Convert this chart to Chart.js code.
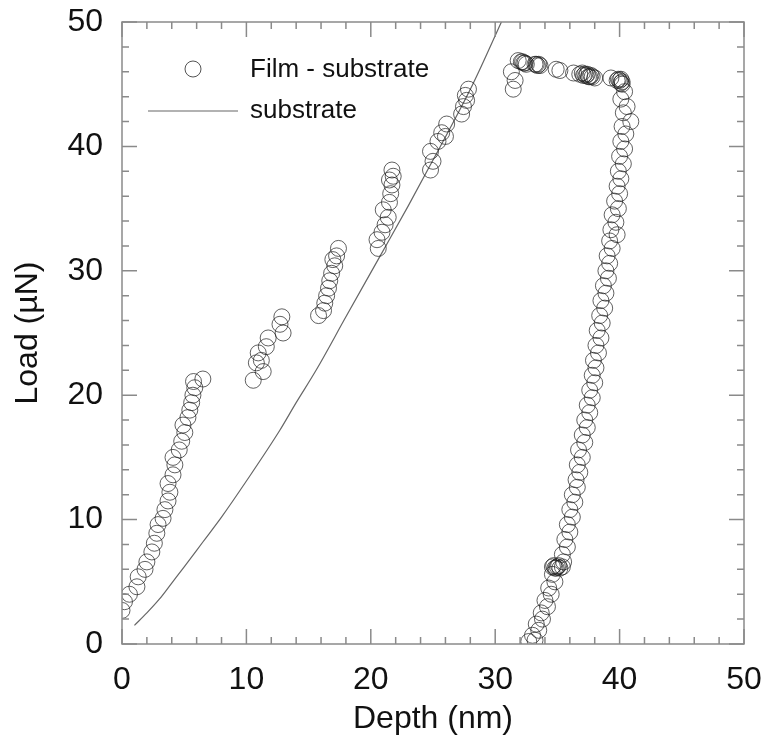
<!DOCTYPE html>
<html>
<head>
<meta charset="utf-8">
<title>Load - depth</title>
<script src="https://cdn.jsdelivr.net/npm/chart.js@4.4.1/dist/chart.umd.min.js"></script>
<style>
  html, body { margin: 0; padding: 0; background: #fff; }
  #wrap { width: 763px; height: 743px; }
</style>
</head>
<body>
<div id="wrap"><canvas id="chart" width="763" height="743"></canvas></div>
<script>
// film - substrate (nm, uN)
const filmDepth = [
  0.0, 0.2, 0.6, 1.2, 1.3, 1.85, 2.0, 2.4, 2.6, 2.8, 2.9, 3.3, 3.45, 3.7, 3.85, 3.7, 4.1, 4.25, 4.1, 4.6,
  4.8, 5.05, 4.9, 5.3, 5.45, 5.6, 5.7, 5.85, 5.75, 6.5,
  10.55, 11.35, 10.8, 11.2, 10.95, 11.6, 11.75, 12.95, 12.7, 12.85,
  15.8, 16.2, 16.3, 16.45, 16.6, 16.7, 16.85, 17.1, 16.95, 17.25, 17.4,
  20.6, 20.5, 20.9, 21.15, 21.0, 21.4, 21.5, 21.6, 21.7, 21.5, 21.8, 21.7,
  24.8, 25.0, 24.8, 25.4, 25.7, 26.0, 26.1, 27.3, 27.45, 27.7, 27.6, 27.85,
  31.45, 31.6, 31.3, 31.85, 32.1, 32.2, 32.3, 32.4, 32.5, 33.2, 33.3, 33.4, 33.5, 33.6, 34.9, 35.2,
  36.3, 36.8, 37.0, 37.1, 37.2, 37.3, 37.4, 37.5, 37.6, 37.7, 37.8, 38.0,
  39.3, 39.8, 39.9, 40.0, 40.1, 40.2, 40.1,
  40.2, 40.4, 40.1, 40.6, 40.3, 40.9, 40.2, 40.5, 40.1, 40.4, 40.0, 40.3, 39.9, 40.1, 39.8, 40.0,
  39.6, 39.9, 39.4, 39.7, 39.3, 39.8, 39.2, 39.4, 39.0, 39.2, 38.9, 39.1, 38.7, 38.9, 38.5, 38.8,
  38.4, 38.6, 38.2, 38.5, 38.1, 38.3, 37.9, 38.1, 37.8, 38.0, 37.6, 37.8, 37.4, 37.6, 37.2, 37.4,
  37.0, 37.2, 36.7, 37.0, 36.6, 36.8, 36.5, 36.6, 36.2, 36.4, 36.0, 36.2, 35.8, 36.0, 35.6, 35.8,
  35.4, 35.5, 34.6, 34.8, 35.0, 35.2, 35.4, 34.7, 35.1, 34.9, 34.6, 34.8, 34.3, 34.5, 34.0, 34.2,
  33.7, 33.8, 33.3, 33.5, 33.0, 33.2, 32.7
];
const filmLoad = [
  2.7, 3.4, 4.0, 4.6, 5.4, 6.0, 6.6, 7.4, 8.1, 8.9, 9.6, 10.1, 10.8, 11.5, 12.2, 12.9, 13.6, 14.4, 15.0, 15.6,
  16.3, 17.0, 17.6, 18.2, 18.8, 19.4, 20.0, 20.6, 21.1, 21.3,
  21.2, 21.9, 22.6, 22.8, 23.4, 23.9, 24.6, 25.0, 25.7, 26.3,
  26.4, 26.8, 27.4, 28.0, 28.6, 29.2, 29.8, 30.4, 30.9, 31.2, 31.8,
  31.8, 32.5, 33.1, 33.7, 34.9, 34.3, 35.5, 36.2, 36.9, 37.3, 37.6, 38.1,
  38.1, 38.8, 39.6, 40.4, 41.1, 40.8, 41.8, 42.6, 43.2, 43.7, 44.1, 44.6,
  44.6, 45.3, 46.0, 46.9, 46.8, 46.8, 46.7, 46.7, 46.6, 46.6, 46.6, 46.5, 46.6, 46.5, 46.2, 46.1,
  45.9, 45.8, 45.9, 45.7, 45.8, 45.7, 45.8, 45.6, 45.6, 45.7, 45.6, 45.5,
  45.5, 45.3, 45.4, 45.3, 45.4, 45.2, 45.1,
  45.0, 44.4, 43.8, 43.2, 42.7, 42.0, 41.6, 41.0, 40.4, 39.8, 39.2, 38.6, 38.0, 37.4, 36.8, 36.2,
  35.6, 35.0, 34.5, 33.9, 33.3, 32.9, 32.4, 31.8, 31.2, 30.6, 30.0, 29.4, 28.8, 28.2, 27.6, 27.0,
  26.4, 25.8, 25.2, 24.6, 24.0, 23.4, 22.8, 22.2, 21.6, 21.0, 20.4, 19.8, 19.2, 18.6, 18.0, 17.4,
  16.8, 16.2, 15.6, 15.0, 14.4, 13.8, 13.2, 12.6, 12.0, 11.4, 10.8, 10.2, 9.6, 9.0, 8.4, 7.8,
  7.2, 6.6, 6.2, 6.1, 6.2, 6.1, 6.2, 6.3, 6.3, 6.1, 5.6, 5.0, 4.5, 4.0, 3.5, 3.0,
  2.5, 2.0, 1.6, 1.1, 0.7, 0.3, 0.2
];

// substrate curve
const substrateDepth = [1.0, 2.0, 3.0, 4.0, 5.0, 6.5, 8.0, 10.0, 12.7, 14.0, 15.6, 18.0, 20.7, 23.0, 25.0, 28.2, 30.5];
const substrateLoad  = [1.5, 2.5, 3.6, 4.9, 6.2, 8.2, 10.2, 13.1, 17.2, 19.4, 22.0, 26.3, 31.1, 35.2, 38.9, 45.0, 50.0];

const xTicks = [0, 10, 20, 30, 40, 50];
const yTicks = [0, 10, 20, 30, 40, 50];

const axisGray = '#8a8a8a';
const fontFam = '"Liberation Sans", Arial, sans-serif';

// box + inward ticks on all four sides
const frameTicks = {
  id: 'frameTicks',
  afterDraw(chart) {
    const { ctx, chartArea: a, scales } = chart;
    const xs = scales.x, ys = scales.y;
    ctx.save();
    ctx.strokeStyle = axisGray;
    ctx.lineWidth = 1.5;
    ctx.strokeRect(a.left, a.top, a.right - a.left, a.bottom - a.top);
    ctx.beginPath();
    for (let v = 0; v <= 50; v += 2) {
      const len = v % 10 === 0 ? 15 : 7;
      const px = xs.getPixelForValue(v);
      ctx.moveTo(px, a.bottom); ctx.lineTo(px, a.bottom - len);
      ctx.moveTo(px, a.top); ctx.lineTo(px, a.top + len);
      const py = ys.getPixelForValue(v);
      ctx.moveTo(a.left, py); ctx.lineTo(a.left + len, py);
      ctx.moveTo(a.right, py); ctx.lineTo(a.right - len, py);
    }
    ctx.stroke();

    // legend
    ctx.fillStyle = '#111';
    ctx.font = '26px ' + fontFam;
    ctx.textBaseline = 'middle';
    ctx.fillText('Film - substrate', 250, 70);
    ctx.fillText('substrate', 250, 111);
    ctx.strokeStyle = 'rgba(40,40,40,0.8)';
    ctx.lineWidth = 1;
    ctx.beginPath();
    ctx.arc(193, 69, 8, 0, Math.PI * 2);
    ctx.stroke();
    ctx.strokeStyle = '#666';
    ctx.lineWidth = 1.2;
    ctx.beginPath();
    ctx.moveTo(148, 111); ctx.lineTo(238, 111);
    ctx.stroke();
    ctx.restore();
  }
};

const ctx = document.getElementById('chart').getContext('2d');
new Chart(ctx, {
  type: 'scatter',
  data: {
    datasets: [
      {
        label: 'Film - substrate',
        data: filmDepth.map((d, i) => ({ x: d, y: filmLoad[i] })),
        pointRadius: 8,
        pointBorderWidth: 1,
        pointBorderColor: 'rgba(30,30,30,0.7)',
        pointBackgroundColor: 'rgba(0,0,0,0)',
        showLine: false
      },
      {
        label: 'substrate',
        data: substrateDepth.map((d, i) => ({ x: d, y: substrateLoad[i] })),
        showLine: true,
        borderColor: '#666',
        borderWidth: 1.2,
        pointRadius: 0,
        cubicInterpolationMode: 'monotone'
      }
    ]
  },
  options: {
    responsive: false,
    animation: false,
    clip: true,
    layout: { padding: { top: 22, right: 19, left: 0, bottom: 0 } },
    plugins: { legend: { display: false }, tooltip: { enabled: false } },
    scales: {
      x: {
        type: 'linear', min: 0, max: 50,
        afterBuildTicks: (s) => { s.ticks = xTicks.map(v => ({ value: v })); },
        afterFit: (s) => { s.height = 99; s.paddingLeft = 0; s.paddingRight = 0; },
        grid: { display: false },
        border: { display: false },
        ticks: { color: '#111', font: { size: 32, family: fontFam }, padding: 9, maxRotation: 0 },
        title: { display: true, text: 'Depth (nm)', color: '#111', font: { size: 32, family: fontFam }, padding: { top: 0, bottom: 5 } }
      },
      y: {
        type: 'linear', min: 0, max: 50,
        afterBuildTicks: (s) => { s.ticks = yTicks.map(v => ({ value: v })); },
        afterFit: (s) => { s.width = 122; s.paddingTop = 0; s.paddingBottom = 0; },
        grid: { display: false },
        border: { display: false },
        ticks: { color: '#111', font: { size: 32, family: fontFam }, padding: 11 },
        title: { display: true, text: 'Load (µN)', color: '#111', font: { size: 32, family: fontFam }, padding: { top: 9, bottom: 0 } }
      }
    }
  },
  plugins: [frameTicks]
});
</script>
</body>
</html>
